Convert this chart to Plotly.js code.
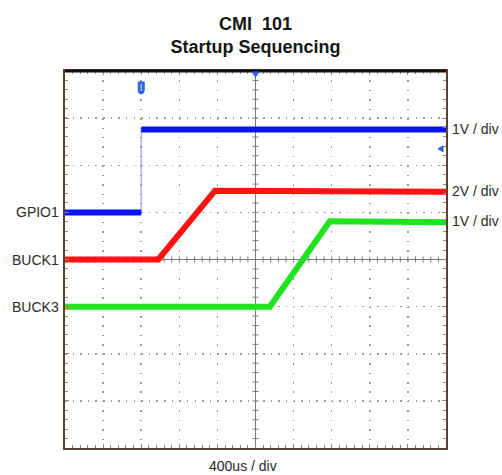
<!DOCTYPE html>
<html>
<head>
<meta charset="utf-8">
<script src="https://cdn.plot.ly/plotly-3.0.1.min.js"></script>
<style>
  html, body { margin: 0; padding: 0; background: #ffffff; }
  #scope { width: 502px; height: 475px; }
</style>
</head>
<body>
<div id="scope"></div>
<script>
// Timebase: 400 us per division, 10 divisions, trigger at screen centre
const timePerDiv = 400;
const timeRange = [-2000, 2000];

// Channel names and vertical settings
const channelNames = ['GPIO1', 'BUCK1', 'BUCK3'];
const voltsPerDiv = [1, 2, 1];
const groundDiv = [1, 0, -1];          // ground marker position, divisions from centre
const channelColors = ['#0a14f5', '#ff1212', '#1fe31f'];

// Captured waveforms (time in us, level in V)
const gpioTime = [-2000, -1200, -1200, 2000];
const gpioVolts = [0, 0, 1.76, 1.76];

const buck1Time = [-2000, -1020, -425, 2000];
const buck1Volts = [0, 0, 2.92, 2.88];

const buck3Time = [-2000, 150, 780, 2000];
const buck3Volts = [0, 0, 1.81, 1.79];

// Trigger level on GPIO1 (V)
const triggerLevel = 1.35;

const channelTimes = [gpioTime, buck1Time, buck3Time];
const channelVolts = [gpioVolts, buck1Volts, buck3Volts];

const FONT = 'Liberation Sans, Arial, sans-serif';
const DIVS_Y = 8;
const DIVS_X = 10;

// Each channel gets its own hidden vertical axis, scaled by V/div and offset by its ground position
const chanAxisIds = ['y2', 'y3', 'y4'];
const chanAxisKeys = ['yaxis2', 'yaxis3', 'yaxis4'];

const traces = [];
channelNames.forEach((name, i) => {
  const t = channelTimes[i];
  const v = channelVolts[i];
  // faint full-bandwidth trace (shows fast edges as a thin line)
  traces.push({
    x: t, y: v, type: 'scatter', mode: 'lines', xaxis: 'x', yaxis: chanAxisIds[i],
    line: { color: i === 0 ? '#8a8cff' : channelColors[i], width: 1 },
    hoverinfo: 'skip', name: name + ' edge'
  });
  // heavy persistence trace; vertical edges are left out
  const tx = [], vy = [];
  for (let k = 0; k < t.length; k++) {
    if (k > 0 && t[k] === t[k - 1]) { tx.push(null); vy.push(null); }
    tx.push(t[k]); vy.push(v[k]);
  }
  traces.push({
    x: tx, y: vy, type: 'scatter', mode: 'lines', xaxis: 'x', yaxis: chanAxisIds[i],
    connectgaps: false,
    line: { color: channelColors[i], width: 6 },
    name: name
  });
});

const gridColor = '#9a9a9a';
const frameColor = '#5a4030';
const centreColor = '#7a7a7a';

const layout = {
  width: 502, height: 475,
  margin: { l: 65, r: 56, t: 71, b: 27 },
  paper_bgcolor: '#ffffff', plot_bgcolor: '#ffffff',
  showlegend: false,
  font: { family: FONT, color: '#2a2a2a', size: 14 },
  title: {
    text: 'CMI\u00a0\u00a0101<br>Startup Sequencing',
    font: { family: FONT, size: 18, color: '#151515', weight: 'bold' },
    xref: 'paper', x: 0.5, xanchor: 'center',
    yref: 'container', y: 1 - 30 / 475, yanchor: 'top'
  },
  xaxis: {
    range: timeRange, tick0: 0, dtick: timePerDiv,
    showticklabels: false,
    ticks: 'inside', ticklen: 4, tickcolor: '#8a8a8a', tickwidth: 1,
    minor: { dtick: timePerDiv / 5, tick0: 0, ticks: 'inside', ticklen: 3, tickcolor: '#8a8a8a', showgrid: false },
    showgrid: true, gridcolor: gridColor, gridwidth: 1.5, griddash: '1.5px,7.925px',
    zeroline: true, zerolinecolor: centreColor, zerolinewidth: 1,
    showline: true, linecolor: frameColor, linewidth: 2, mirror: 'ticks',
    fixedrange: true
  },
  yaxis: {
    range: [-DIVS_Y / 2, DIVS_Y / 2], tick0: 0, dtick: 1,
    showticklabels: false,
    ticks: 'inside', ticklen: 4, tickcolor: '#8a8a8a', tickwidth: 1,
    minor: { dtick: 0.2, tick0: 0, ticks: 'inside', ticklen: 3, tickcolor: '#8a8a8a', showgrid: false },
    showgrid: true, gridcolor: gridColor, gridwidth: 1.5, griddash: '1.5px,6.12px',
    zeroline: true, zerolinecolor: centreColor, zerolinewidth: 1,
    showline: true, linecolor: frameColor, linewidth: 2, mirror: 'ticks',
    fixedrange: true
  },
  annotations: [],
  shapes: []
};

channelNames.forEach((name, i) => {
  const vpd = voltsPerDiv[i];
  const g = groundDiv[i];
  layout[chanAxisKeys[i]] = {
    overlaying: 'y', anchor: 'x', side: 'left',
    showgrid: false, zeroline: false, showline: false, showticklabels: false, ticks: '',
    fixedrange: true,
    range: [(-DIVS_Y / 2 - g) * vpd, (DIVS_Y / 2 - g) * vpd]
  };
  // channel name at its ground level
  layout.annotations.push({
    xref: 'paper', x: 0, xanchor: 'right', xshift: -4,
    yref: chanAxisIds[i], y: 0, yanchor: 'middle',
    text: name, showarrow: false,
    font: { family: FONT, size: 14, color: '#2a2a2a' }
  });
  // vertical scale at the settled level
  layout.annotations.push({
    xref: 'paper', x: 1, xanchor: 'left', xshift: 4,
    yref: chanAxisIds[i], y: Math.max(...channelVolts[i]), yanchor: 'middle',
    text: vpd + 'V / div', showarrow: false,
    font: { family: FONT, size: 14, color: '#2a2a2a' }
  });
});

// horizontal scale readout
layout.annotations.push({
  xref: 'paper', x: 0.5, xanchor: 'center', xshift: -13,
  yref: 'paper', y: 0, yanchor: 'top', yshift: -8,
  text: timePerDiv + 'us / div', showarrow: false,
  font: { family: FONT, size: 14, color: '#2a2a2a' }
});

// minor tick marks crossing the centre graticule lines
for (let k = 1; k < DIVS_X * 5; k++) {
  const t = timeRange[0] + k * timePerDiv / 5;
  layout.shapes.push({
    type: 'line', xref: 'x', x0: t, x1: t,
    yref: 'y', ysizemode: 'pixel', yanchor: 0, y0: -3, y1: 3,
    line: { color: centreColor, width: 1 }, layer: 'below'
  });
}
for (let k = 1; k < DIVS_Y * 5; k++) {
  const d = -DIVS_Y / 2 + k * 0.2;
  layout.shapes.push({
    type: 'line', yref: 'y', y0: d, y1: d,
    xref: 'x', xsizemode: 'pixel', xanchor: 0, x0: -3, x1: 3,
    line: { color: centreColor, width: 1 }, layer: 'below'
  });
}

// heavy top edge of the screen
layout.shapes.push({
  type: 'line', xref: 'paper', yref: 'paper', x0: 0, x1: 1, y0: 1, y1: 1,
  line: { color: '#111111', width: 3 }, layer: 'above'
});

// trigger-point marker (capsule) above the GPIO1 edge
layout.shapes.push({
  type: 'path', xref: 'x', xsizemode: 'pixel', xanchor: gpioTime[1],
  yref: 'paper', ysizemode: 'pixel', yanchor: 1,
  path: 'M-3,-11 L3,-11 L3,-19 Q3,-23 0,-23 Q-3,-23 -3,-19 Z',
  fillcolor: '#2f62e0', line: { color: '#2f62e0', width: 1 }, layer: 'above'
});
layout.shapes.push({
  type: 'path', xref: 'x', xsizemode: 'pixel', xanchor: gpioTime[1],
  yref: 'paper', ysizemode: 'pixel', yanchor: 1,
  path: 'M0,-13 L0,-20',
  line: { color: '#cfe0ff', width: 1 }, layer: 'above'
});
// trigger position marker at top centre
layout.shapes.push({
  type: 'path', xref: 'x', xsizemode: 'pixel', xanchor: 0,
  yref: 'paper', ysizemode: 'pixel', yanchor: 1,
  path: 'M-3.5,-1 L3.5,-1 L0,-6 Z',
  fillcolor: '#2f62e0', line: { color: '#2f62e0', width: 1 }, layer: 'above'
});
// trigger level marker on the right edge
layout.shapes.push({
  type: 'path', xref: 'paper', xsizemode: 'pixel', xanchor: 1,
  yref: 'y2', ysizemode: 'pixel', yanchor: triggerLevel,
  path: 'M-8,0 L-3,3 L-3,-3 Z',
  fillcolor: '#2f62e0', line: { color: '#2f62e0', width: 1 }, layer: 'above'
});

Plotly.newPlot('scope', traces, layout, { staticPlot: true, displayModeBar: false });
</script>
</body>
</html>
